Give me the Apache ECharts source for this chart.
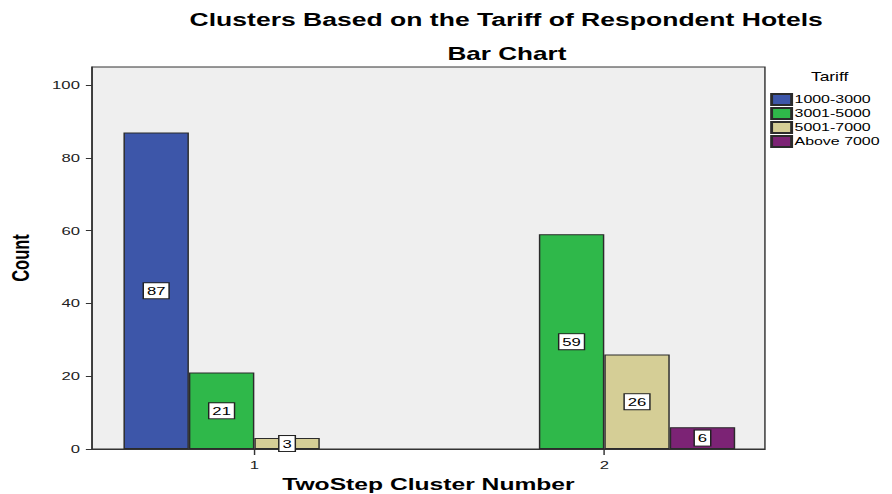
<!DOCTYPE html>
<html>
<head>
<meta charset="utf-8">
<title>Clusters Based on the Tariff of Respondent Hotels</title>
<script src="https://cdn.jsdelivr.net/npm/echarts@6/dist/echarts.min.js"></script>
<style>
  html, body { margin: 0; padding: 0; background: #ffffff; overflow: hidden; }
  /* The chart is laid out on a narrower stage and widened to fill the 892px frame,
     giving the broad, stretched lettering of the exported figure. */
  #chart {
    width: 615px;
    height: 494px;
    transform: scaleX(1.4504);
    transform-origin: 0 0;
  }
</style>
</head>
<body>
<div id="chart"></div>
<script>
// Cluster numbers on the x axis and the tariff groups counted in each cluster
const clusters = [1, 2];
const tariffGroups = ['1000-3000', '3001-5000', '5001-7000', 'Above 7000'];
const count1000to3000 = [87, null];
const count3001to5000 = [21, 59];
const count5001to7000 = [3, 26];
const countAbove7000 = [null, 6];
const yTicks = [0, 20, 40, 60, 80, 100];

const groupColors = ['#3d56a9', '#2fb84a', '#d5ce96', '#7c2375'];
const groupCounts = [count1000to3000, count3001to5000, count5001to7000, countAbove7000];

const font = 'Liberation Sans, Arial, Helvetica, sans-serif';

const chart = echarts.init(document.getElementById('chart'), null, { renderer: 'svg' });

const series = tariffGroups.map((name, i) => ({
  name: name,
  type: 'bar',
  data: clusters
    .map((c, k) => [c, groupCounts[i][k]])
    .filter(d => d[1] !== null),
  barWidth: '18.7%',
  barGap: '0%',
  itemStyle: { color: groupColors[i], borderColor: '#2b2b2b', borderWidth: 1 },
  label: {
    show: true,
    position: 'inside',
    color: '#000',
    fontFamily: font,
    fontSize: 11.5,
    backgroundColor: '#ffffff',
    borderColor: '#222',
    borderWidth: 1,
    padding: [2, 2, 1, 2]
  },
  emphasis: { disabled: true }
}));

chart.setOption({
  animation: false,
  backgroundColor: '#ffffff',
  textStyle: { fontFamily: font },
  title: [
    {
      text: 'Clusters Based on the Tariff of Respondent Hotels',
      left: 349, top: 11, textAlign: 'center', padding: 0,
      textStyle: { fontSize: 18.3, fontWeight: 'bold', color: '#000', fontFamily: font }
    },
    {
      text: 'Bar Chart',
      left: 349.5, top: 45, textAlign: 'center', padding: 0,
      textStyle: { fontSize: 18, fontWeight: 'bold', color: '#000', fontFamily: font }
    },
    {
      text: 'Tariff',
      left: 572, top: 71, textAlign: 'center', padding: 0,
      textStyle: { fontSize: 12, fontWeight: 'normal', color: '#000', fontFamily: font }
    }
  ],
  legend: {
    orient: 'vertical',
    left: 531, top: 93, padding: 0,
    itemWidth: 13.8, itemHeight: 11, itemGap: 1,
    icon: 'rect',
    selectedMode: false,
    textStyle: { fontSize: 11, color: '#000', fontFamily: font, padding: [0, 0, 0, -3] },
    data: tariffGroups
  },
  grid: {
    left: 63.4, right: 87.6, top: 67, bottom: 45,
    outerBoundsMode: 'none',
    containLabel: false,
    show: true,
    backgroundColor: '#efefef',
    borderColor: '#333',
    borderWidth: 1
  },
  xAxis: {
    type: 'value',
    min: 0.536,
    max: 2.459,
    name: 'TwoStep Cluster Number',
    nameLocation: 'middle',
    nameGap: 26,
    nameTextStyle: { fontSize: 17, fontWeight: 'bold', color: '#000', fontFamily: font },
    splitLine: { show: false },
    axisLine: { show: true, lineStyle: { color: '#333' } },
    axisTick: { show: true, length: 6, customValues: clusters, lineStyle: { color: '#333' } },
    axisLabel: { customValues: clusters, fontSize: 11.5, color: '#222', margin: 10, fontFamily: font }
  },
  yAxis: {
    type: 'value',
    min: 0,
    max: 105,
    name: 'Count',
    nameLocation: 'middle',
    nameGap: 41,
    nameRotate: 90,
    nameTextStyle: { fontSize: 16.5, fontWeight: 'bold', color: '#000', fontFamily: font },
    splitLine: { show: false },
    axisLine: { show: true, lineStyle: { color: '#333' } },
    axisTick: { show: true, length: 4.2, customValues: yTicks, lineStyle: { color: '#333' } },
    axisLabel: { customValues: yTicks, fontSize: 11.5, color: '#222', margin: 8.3, fontFamily: font }
  },
  series: series
});
</script>
</body>
</html>
